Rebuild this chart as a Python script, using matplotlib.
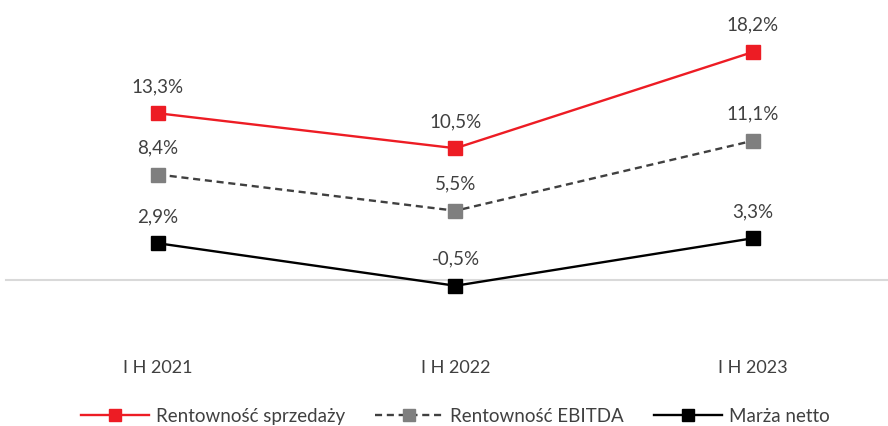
import matplotlib.pyplot as plt

categories = ["I H 2021", "I H 2022", "I H 2023"]
sprzedaz = [13.3, 10.5, 18.2]
ebitda = [8.4, 5.5, 11.1]
netto = [2.9, -0.5, 3.3]

plt.rcParams['font.family'] = ['Lato', 'DejaVu Sans']
txt = '#404040'

fig = plt.figure(figsize=(8.88, 4.27), dpi=100)
ax = fig.add_axes([0, 0, 1, 1])

x = range(len(categories))
series = [
    (sprzedaz, 'Rentowność sprzedaży', '#ED1C24', '#ED1C24', '-'),
    (ebitda, 'Rentowność EBITDA', '#404040', '#7F7F7F', (0, (3, 2))),
    (netto, 'Marża netto', '#000000', '#000000', '-'),
]
for vals, name, lc, mc, ls in series:
    ax.plot(x, vals, color=lc, linestyle=ls, linewidth=1.7, marker='s',
            markersize=10.5, markerfacecolor=mc, markeredgecolor=mc, label=name)
    for xi, v in zip(x, vals):
        ax.annotate(f"{v:.1f}%".replace('.', ','), (xi, v), xytext=(0, 20),
                    textcoords='offset points', ha='center', va='center',
                    fontsize=13.5, color=txt)

ax.axhline(0, color='#d9d9d9', linewidth=1.5, xmin=0.007, zorder=0)
for xi, c in zip(x, categories):
    ax.text(xi, -7.0, c, ha='center', va='center', fontsize=13, color=txt)

ax.set_xlim(-0.531, 2.454)
ax.set_ylim(-11.72, 22.44)
ax.axis('off')

fig.legend(loc='center', bbox_to_anchor=(0.513, 0.024), ncol=3, frameon=False,
           fontsize=13.5, labelcolor=txt, handlelength=3.6, columnspacing=1.6,
           handletextpad=0.4, markerscale=0.85)

fig.savefig('out.png', dpi=100)
